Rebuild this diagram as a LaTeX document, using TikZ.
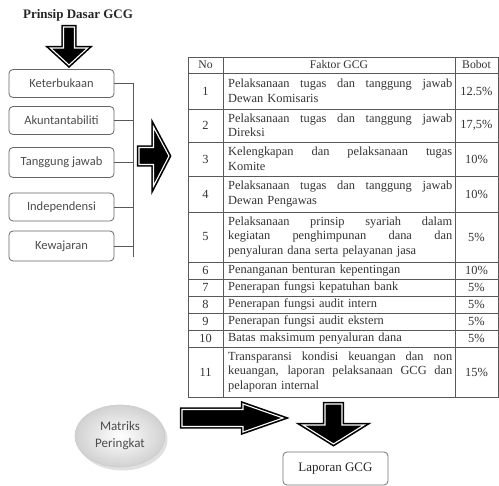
\documentclass[tikz,border=0pt]{standalone}
\usepackage{fontspec}
\setmainfont{Liberation Serif}
\newfontfamily\calib{Carlito}
\usetikzlibrary{shapes.geometric}
\newcommand{\jl}[1]{\leavevmode\hbox to 224pt{\spaceskip=0.25em plus 1fil\xspaceskip=0.3em plus 1fil\relax #1}}
\newcommand{\barrow}[1]{\path[arrowbody] #1; \path[arrowline] #1;}
\tikzset{
  pbox/.style={draw=black!60, line width=0.8pt, rounded corners=4pt, minimum width=105pt, minimum height=28pt, inner sep=0pt, font=\calib\fontsize{12.5}{14}\selectfont, text=black!70},
  arrowbody/.style={fill=black, draw=black, line width=4.4pt, line join=miter, miter limit=6},
  arrowline/.style={draw=white, line width=1.1pt, line join=miter, miter limit=6},
  tline/.style={draw=black!65, line width=0.7pt},
  ttext/.style={inner sep=0pt, font=\fontsize{12.4}{14.5}\selectfont, text=black!80},
  thead/.style={inner sep=0pt, font=\fontsize{11.7}{13}\selectfont, text=black!80},
  ftext/.style={ttext, anchor=west, text width=224pt, align=left},
  brk/.style={draw=black!65, line width=0.8pt}
}
\begin{document}
\begin{tikzpicture}[x=1pt,y=-1pt]
\useasboundingbox (0,0) rectangle (499,486);
% title
\node[inner sep=0pt, font=\bfseries\fontsize{13}{15}\selectfont, text=black!85] (title) at (78,15) {Prinsip Dasar GCG};
% top down arrow
\barrow{(63.5,27) -- (74.5,27) -- (74.5,48) -- (87.5,48) -- (69,65) -- (50.5,48) -- (63.5,48) -- cycle}
% principle boxes
\node[pbox] (k1) at (61.5,83.5) {Keterbukaan};
\node[pbox] (k2) at (61.5,120.5) {Akuntantabiliti};
\node[pbox, minimum height=30pt] (k3) at (61.5,162.5) {Tanggung jawab};
\node[pbox] (k4) at (61.5,207) {Independensi};
\node[pbox, minimum height=30pt] (k5) at (61.5,246) {Kewajaran};
\coordinate (brtop) at (133,83.5);
\coordinate (brbot) at (133,257);
\draw[brk] (brtop) -- (brbot);
\foreach \k in {k1,k2,k3,k4,k5} {\draw[brk] (\k.east) -- (\k.east -| brtop);}
% middle right arrow
\barrow{(139,147.5) -- (153.5,147.5) -- (153.5,127) -- (169,156) -- (153.5,186) -- (153.5,164.5) -- (139,164.5) -- cycle}
% table grid
\draw[tline] (188,57) rectangle (498,397);
\draw[tline] (223,57) -- (223,397);
\draw[tline] (455,57) -- (455,397);
\foreach \yy in {73,109,142,176,212,262,279,296,313,330,347} {\draw[tline] (188,\yy) -- (498,\yy);}
% header
\node[thead] (hno) at (205.5,65) {No};
\node[thead] (hf) at (339,65) {Faktor GCG};
\node[thead] (hb) at (476.5,65) {Bobot};
% rows
\node[ttext] (n1) at (205.5,91) {1};
\node[ftext] (f1) at (228,91) {\jl{Pelaksanaan tugas dan tanggung jawab}\\Dewan Komisaris};
\node[ttext] (b1) at (476.5,91) {12.5\%};
\node[ttext] (n2) at (205.5,125.5) {2};
\node[ftext] (f2) at (228,125.5) {\jl{Pelaksanaan tugas dan tanggung jawab}\\Direksi};
\node[ttext] (b2) at (476.5,125.5) {17,5\%};
\node[ttext] (n3) at (205.5,159) {3};
\node[ftext] (f3) at (228,159) {\jl{Kelengkapan dan pelaksanaan tugas}\\Komite};
\node[ttext] (b3) at (476.5,159) {10\%};
\node[ttext] (n4) at (205.5,194) {4};
\node[ftext] (f4) at (228,194) {\jl{Pelaksanaan tugas dan tanggung jawab}\\Dewan Pengawas};
\node[ttext] (b4) at (476.5,194) {10\%};
\node[ttext] (n5) at (205.5,237) {5};
\node[ftext] (f5) at (228,237) {\jl{Pelaksanaan prinsip syariah dalam}\\\jl{kegiatan penghimpunan dana dan}\\penyaluran dana serta pelayanan jasa};
\node[ttext] (b5) at (476.5,237) {5\%};
\node[ttext] (n6) at (205.5,270.5) {6};
\node[ftext] (f6) at (228,270.5) {Penanganan benturan kepentingan};
\node[ttext] (b6) at (476.5,270.5) {10\%};
\node[ttext] (n7) at (205.5,287.5) {7};
\node[ftext] (f7) at (228,287.5) {Penerapan fungsi kepatuhan bank};
\node[ttext] (b7) at (476.5,287.5) {5\%};
\node[ttext] (n8) at (205.5,304.5) {8};
\node[ftext] (f8) at (228,304.5) {Penerapan fungsi audit intern};
\node[ttext] (b8) at (476.5,304.5) {5\%};
\node[ttext] (n9) at (205.5,321.5) {9};
\node[ftext] (f9) at (228,321.5) {Penerapan fungsi audit ekstern};
\node[ttext] (b9) at (476.5,321.5) {5\%};
\node[ttext] (n10) at (205.5,338.5) {10};
\node[ftext] (f10) at (228,338.5) {Batas maksimum penyaluran dana};
\node[ttext] (b10) at (476.5,338.5) {5\%};
\node[ttext] (n11) at (205.5,372) {11};
\node[ftext] (f11) at (228,372) {\jl{Transparansi kondisi keuangan dan non}\\\jl{keuangan, laporan pelaksanaan GCG dan}\\pelaporan internal};
\node[ttext] (b11) at (476.5,372) {15\%};
% ellipse
\fill[black, opacity=0.12] (122.5,439.5) ellipse (45pt and 31pt);
\node[ellipse, draw=black!20, line width=0.6pt, inner color=white, outer color=black!18, minimum width=90pt, minimum height=62pt, inner sep=0pt, align=center, font=\calib\fontsize{13}{17}\selectfont, text=black!70] (mp) at (120,436) {Matriks\\Peringkat};
% bottom right arrow
\barrow{(182,409.5) -- (243,409.5) -- (243,404) -- (283,418) -- (243,432) -- (243,426.5) -- (182,426.5) -- cycle}
% bottom down arrow
\barrow{(325,404) -- (342,404) -- (342,425) -- (364,425) -- (333.5,444) -- (303,425) -- (325,425) -- cycle}
% laporan box
\node[draw=black!55, line width=0.8pt, rounded corners=4pt, minimum width=105pt, minimum height=33pt, inner sep=0pt, font=\fontsize{13}{15}\selectfont, text=black!85] (lap) at (335.5,468.5) {Laporan GCG};
\end{tikzpicture}
\end{document}
